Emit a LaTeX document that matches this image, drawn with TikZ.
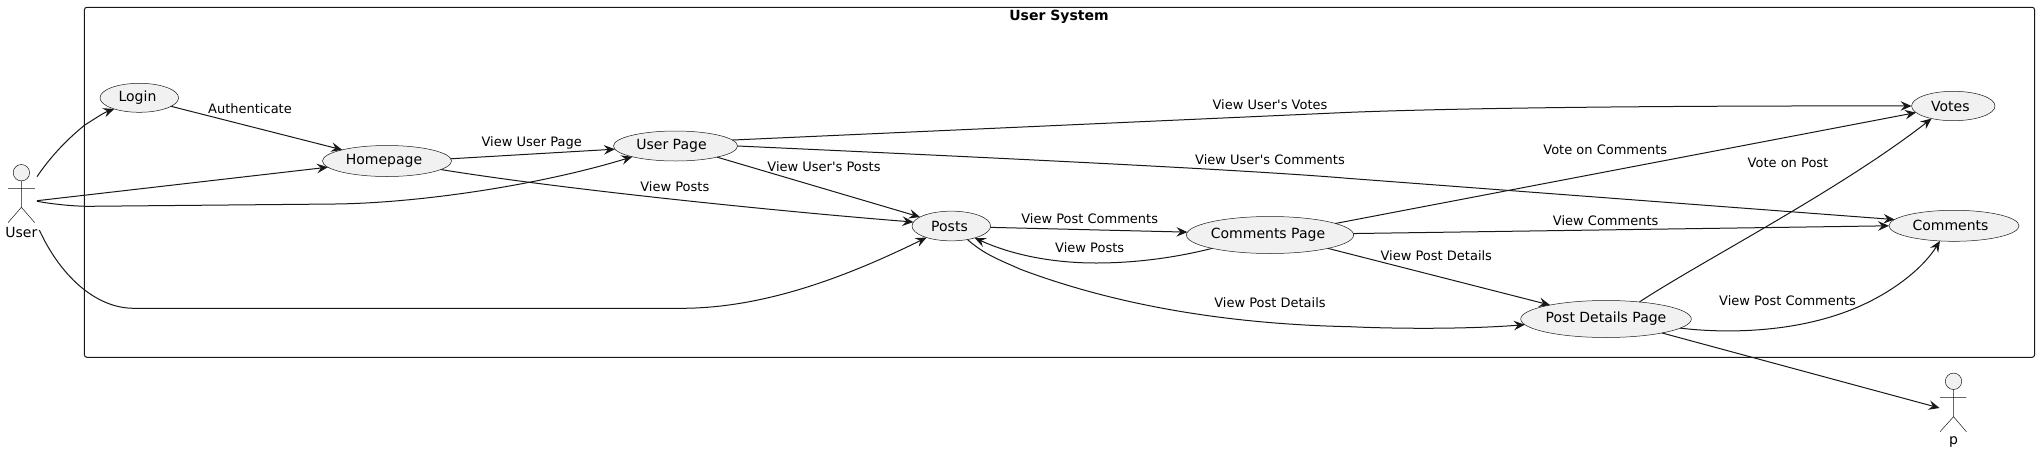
\documentclass[tikz,border=0pt]{standalone}
\usepackage{fontspec}
\setmainfont{DejaVu Sans}
\newfontfamily\straightapos{DejaVu Sans}
\usetikzlibrary{shapes.geometric,arrows.meta}
\definecolor{ink}{HTML}{181818}
\definecolor{uc}{HTML}{F1F1F1}
\tikzset{
  usecase/.style={ellipse,draw=ink,line width=0.5pt,fill=uc,inner sep=0pt,outer sep=0pt,text=black,font=\fontsize{14}{16}\selectfont},
  lbl/.style={inner sep=0pt,outer sep=0pt,text=black,font=\fontsize{13}{15}\selectfont},
  actorname/.style={inner sep=0pt,outer sep=0pt,text=black,font=\fontsize{14}{16}\selectfont},
  head/.style={circle,draw=ink,line width=0.5pt,fill=uc,minimum size=16.4pt,inner sep=0pt,outer sep=0pt},
  limb/.style={draw=ink,line width=0.5pt},
  conn/.style={draw=ink,line width=1pt,-{Stealth[length=11pt,width=9.5pt,inset=4pt]}},
  frame/.style={draw=ink,line width=1pt,rounded corners=2.5pt}
}
\begin{document}
\begin{tikzpicture}[x=1pt,y=-1pt]
\useasboundingbox (0,0) rectangle (2039,453);
\fill[white] (0,0) rectangle (2039,453);
\draw[frame] (84.4,7.3) rectangle (2034.6,357.3);
\node[inner sep=0pt,text=black,font=\fontsize{14}{16}\selectfont\bfseries] (title) at (1059,17.3) {User System};

\node[usecase,minimum width=78.6pt,minimum height=29pt] (login) at (139.3,97.8) {Login\kern3.6pt};
\node[usecase,minimum width=129pt,minimum height=31pt] (home) at (387,161) {Homepage\kern6pt};
\node[usecase,minimum width=124pt,minimum height=30pt] (upage) at (675.5,146) {User Page\kern8pt};
\node[usecase,minimum width=78.6pt,minimum height=29.7pt] (posts) at (951.3,226) {Posts\kern3.6pt};
\node[usecase,minimum width=159pt,minimum height=37pt] (cpage) at (1270,235) {Comments Page\kern4pt};
\node[usecase,minimum width=165.6pt,minimum height=37pt] (pdp) at (1606,319) {Post Details Page};
\node[usecase,minimum width=83.4pt,minimum height=29.4pt] (votes) at (1953.3,106) {Votes\kern6pt};
\node[usecase,minimum width=130pt,minimum height=31pt] (comments) at (1954,225.8) {Comments\kern7pt};

% actor User
\node[head] (userhead) at (21.4,172.7) {};
\draw[limb] (userhead.south) -- (21.4,207.3) (8,188.3) -- (34.8,188.3) (8,222.7) -- (21.4,207.3) -- (34.8,222.7);
\node[actorname] (user) at (21.4,232) {User};
\coordinate (ua) at (37,176.7);
\coordinate (ub) at (37,200.7);
\coordinate (uc) at (37,201.3);
\coordinate (ud) at (39.3,230);
% actor p
\node[head] (phead) at (1953.5,381.3) {};
\draw[limb] (phead.south) -- (1953.5,416.7) (1940,397.3) -- (1966.4,397.3) (1940,431.7) -- (1953.5,416.7) -- (1966.4,431.7);
\node[actorname] (p) at (1953.5,441.7) {p};
\coordinate (pport) at (1939.6,408);

% connectors
\draw[conn] (ua) .. controls (55,150) and (75,133) .. (84.8,125) .. controls (93,120) and (103,113) .. (login.204.3);
\draw[conn] (ub) -- (home.186.6);
\draw[conn] (uc) .. controls (55,204.5) and (75,206.3) .. (89,206.3) -- (335,204) .. controls (420,203) and (540,185) .. (upage.194.5);
\draw[conn] (ud) .. controls (60,275) and (95,308.3) .. (134,308.3) -- (681,308.3) .. controls (760,308.3) and (840,280) .. (posts.205.6);
\draw[conn] (login.-15.3) -- (home.166.4);
\draw[conn] (home.2.9) -- (upage.183.4);
\draw[conn] (home.-9) .. controls (560,189) and (780,211.5) .. (posts.174.4);
\draw[conn] (upage.6.7) -- (1350,112.3) .. controls (1500,106.5) and (1750,105.7) .. (votes.180);
\draw[conn] (upage.0) .. controls (1000,158) and (1250,170) .. (1350,178.5) -- (comments.174.9);
\draw[conn] (upage.-15.2) -- (posts.164.5);
\draw[conn] (posts.-2.5) -- (cpage.178.3);
\draw[conn] (cpage.193.8) .. controls (1170,259) and (1130,263) .. (1096,263) .. controls (1050,263) and (1010,254) .. (posts.-27.7);
\draw[conn] (posts.-40.3) .. controls (985,255) and (1000,260) .. (1020.5,269.3) .. controls (1110,303) and (1220,324) .. (1350,326.7) .. controls (1400,329) and (1470,329) .. (pdp.184.3);
\draw[conn] (cpage.10.5) -- (votes.190.6);
\draw[conn] (cpage.1.2) -- (comments.180.8);
\draw[conn] (cpage.-13.8) -- (pdp.166.4);
\draw[conn] (pdp.27.9) .. controls (1700,262) and (1840,190) .. (votes.210);
\draw[conn] (pdp.-7.4) .. controls (1720,333) and (1800,335) .. (1866,303.3) .. controls (1900,287) and (1925,265) .. (comments.227.8);
\draw[conn] (pdp.-14.8) -- (pport);

% labels
\node[lbl] (l1) at (250,108.7) {Authenticate};
\node[lbl] (l2) at (531.7,142.7) {View User Page};
\node[lbl] (l3) at (674.8,186.7) {View Posts};
\node[lbl] (l4) at (824,166.7) {View User{\straightapos'}s Posts};
\node[lbl] (l5) at (1270,104.7) {View User{\straightapos'}s Votes};
\node[lbl] (l6) at (1270,159.7) {View User{\straightapos'}s Comments};
\node[lbl] (l7) at (1089.7,218.7) {View Post Comments};
\node[lbl] (l8) at (1089.7,247.7) {View Posts};
\node[lbl] (l9) at (1270,302.7) {View Post Details};
\node[lbl] (l10) at (1605.3,149.7) {Vote on Comments};
\node[lbl] (l11) at (1788,162.7) {Vote on Post};
\node[lbl] (l12) at (1605.7,220.7) {View Comments};
\node[lbl] (l13) at (1436.3,255.7) {View Post Details};
\node[lbl] (l14) at (1787.6,300.7) {View Post Comments};
\end{tikzpicture}
\end{document}
